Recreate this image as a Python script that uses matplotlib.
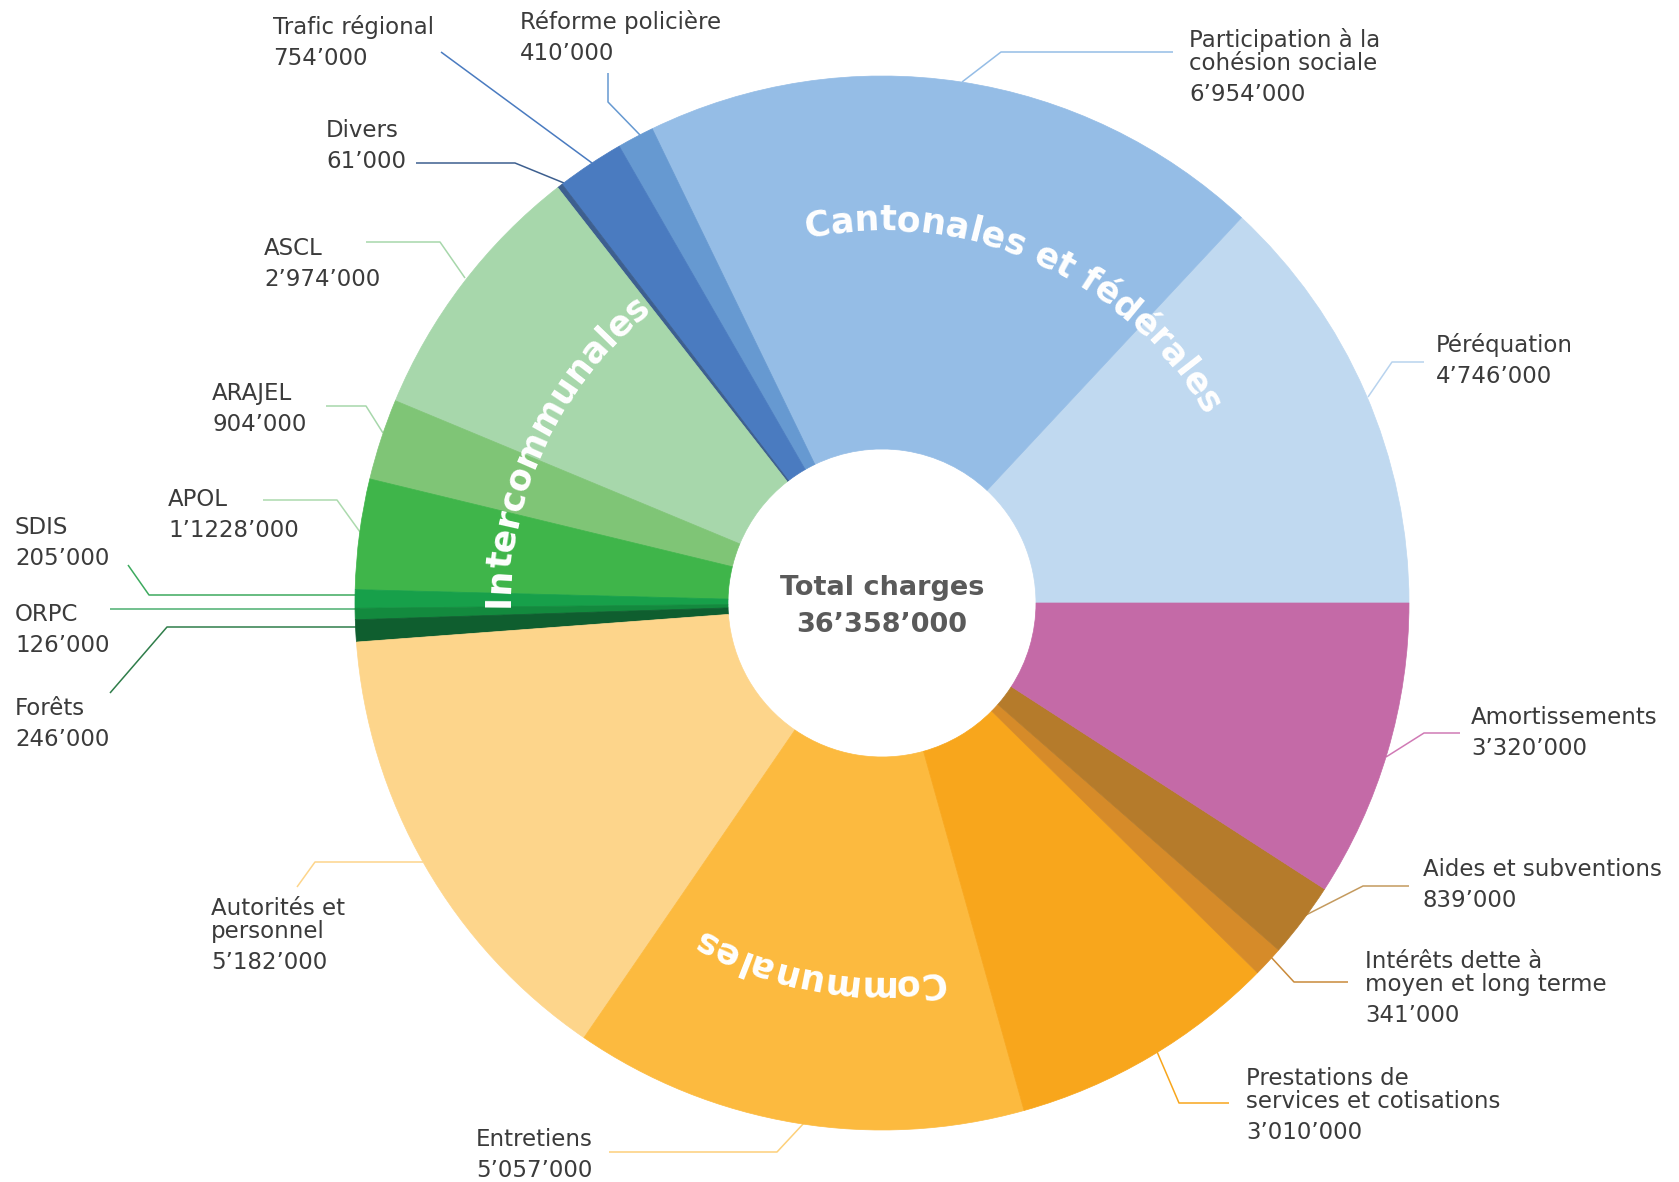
import matplotlib
matplotlib.use("Agg")
import matplotlib.pyplot as plt
import numpy as np
from matplotlib.font_manager import FontProperties
from matplotlib.textpath import text_to_path

W, H = 1679, 1182
DPI = 100

# --- data ---
categories = ["Péréquation", "Participation à la\ncohésion sociale", "Réforme policière",
              "Trafic régional", "Divers", "ASCL", "ARAJEL", "APOL", "SDIS", "ORPC", "Forêts",
              "Autorités et\npersonnel", "Entretiens", "Prestations de\nservices et cotisations",
              "Intérêts dette à\nmoyen et long terme", "Aides et subventions", "Amortissements"]
values = [4746000, 6954000, 410000, 754000, 61000, 2974000, 904000, 1228000, 205000,
          126000, 246000, 5182000, 5057000, 3010000, 341000, 839000, 3320000]
value_labels = ["4’746’000", "6’954’000", "410’000", "754’000", "61’000", "2’974’000",
                "904’000", "1’1228’000", "205’000", "126’000", "246’000", "5’182’000",
                "5’057’000", "3’010’000", "341’000", "839’000", "3’320’000"]
total_label = "36’358’000"
group_names = ["Cantonales et fédérales", "Intercommunales", "Communales"]

colors = ["#c0d9f0", "#95bde6", "#6699d1", "#4a7bc0", "#3d5f8f",
          "#a7d7ab", "#7fc576", "#3fb54a", "#17a04a", "#138a3e", "#0f5e2f",
          "#fdd58b", "#fcba3f", "#f8a61c", "#d68b29", "#b57b2b", "#c46aa7"]
line_colors = ["#b8d3ee", "#95bde6", "#6699d1", "#4a7bc0", "#3d5f8f",
               "#a7d7ab", "#a7d7ab", "#acdaae", "#3daa5e", "#4caf70", "#2f7d4a",
               "#fdd58b", "#fdd07a", "#f8a61c", "#c98a3a", "#c49a5e", "#d07ab5"]

# --- layout (pixel coords, y down) ---
cx, cy = 882, 603
r_out, r_in = 527, 154
label_xy = [(1436, 352), (1189, 47), (520, 29), (273, 34), (326, 137), (264, 255),
            (212, 400), (168, 506), (15, 534), (15, 621), (15, 715), (211, 915),
            (476, 1146), (1246, 1085), (1365, 968), (1423, 876), (1471, 724)]
leaders = [
    [(1424, 362), (1392, 362), (1368, 397)],
    [(1173, 52), (1001, 52), (962, 82)],
    [(608, 73), (608, 102), (640, 135)],
    [(441, 52), (592, 163)],
    [(416, 163), (515, 163), (564, 183)],
    [(366, 242), (440, 242), (465, 278)],
    [(326, 406), (366, 406), (383, 433)],
    [(263, 500), (337, 500), (360, 532)],
    [(128, 565), (149, 595), (360, 595)],
    [(110, 609), (360, 609)],
    [(110, 693), (167, 627), (360, 627)],
    [(297, 887), (315, 862), (423, 862)],
    [(609, 1152), (777, 1152), (804, 1123)],
    [(1229, 1103), (1179, 1103), (1155, 1047)],
    [(1348, 982), (1294, 982), (1270, 956)],
    [(1409, 886), (1363, 886), (1302, 917)],
    [(1460, 733), (1424, 733), (1386, 757)],
]
group_mid = [65.75, 154.7, -100.0]

fig = plt.figure(figsize=(W / DPI, H / DPI), dpi=DPI)
ax = fig.add_axes([0, 0, 1, 1])

wedges, _ = ax.pie(values, colors=colors, startangle=0, counterclock=True,
                   radius=r_out, center=(cx, H - cy),
                   wedgeprops=dict(width=r_out - r_in, zorder=2))
for w in wedges:
    w.set_edgecolor(w.get_facecolor())
    w.set_linewidth(0.5)

ax.set_xlim(0, W)
ax.set_ylim(0, H)
ax.set_aspect("equal")
ax.axis("off")

# leader lines and labels
lab_font = dict(family=["DejaVu Sans"], fontsize=16.5, color="#3b3b3b")
for i, name in enumerate(categories):
    pts = np.array(leaders[i], dtype=float)
    ax.plot(pts[:, 0], H - pts[:, 1], color=line_colors[i], lw=1.1, zorder=1,
            solid_capstyle="butt")
    x, yb = label_xy[i]
    lines = name.split("\n")
    for k, ln in enumerate(lines):
        ax.text(x, H - (yb + 23 * k), ln, ha="left", va="baseline", **lab_font)
    ax.text(x, H - (yb + 23 * (len(lines) - 1) + 31), value_labels[i],
            ha="left", va="baseline", **lab_font)

# centre text
ctr_font = dict(family=["DejaVu Sans"], fontsize=19.5, fontweight="bold",
                color="#5a5a5a", ha="center", va="baseline")
ax.text(cx, H - 595, "Total charges", **ctr_font)
ax.text(cx, H - 632, total_label, **ctr_font)

# curved group names
fp = FontProperties(family="DejaVu Sans", weight="bold", size=25)


def char_w(ch):
    w2 = text_to_path.get_text_width_height_descent("H" + ch + "H", fp, ismath=False)[0]
    w1 = text_to_path.get_text_width_height_descent("HH", fp, ismath=False)[0]
    return (w2 - w1) * DPI / 72


def curved_text(text, mid_deg, r):
    ws = np.array([char_w(c) for c in text])
    centers = np.cumsum(ws) - ws / 2
    span = centers[-1] - centers[0]
    th0 = np.radians(mid_deg) + (span / 2) / r
    for c, xc in zip(text, centers):
        if c == " ":
            continue
        th = th0 - (xc - centers[0]) / r
        ax.text(cx + r * np.cos(th), (H - cy) + r * np.sin(th), c,
                rotation=np.degrees(th) - 90, rotation_mode="anchor",
                ha="center", va="baseline", fontproperties=fp, color="white", zorder=5)


for name, mid in zip(group_names, group_mid):
    curved_text(name, mid, 373)

fig.savefig("out.png", dpi=DPI)
